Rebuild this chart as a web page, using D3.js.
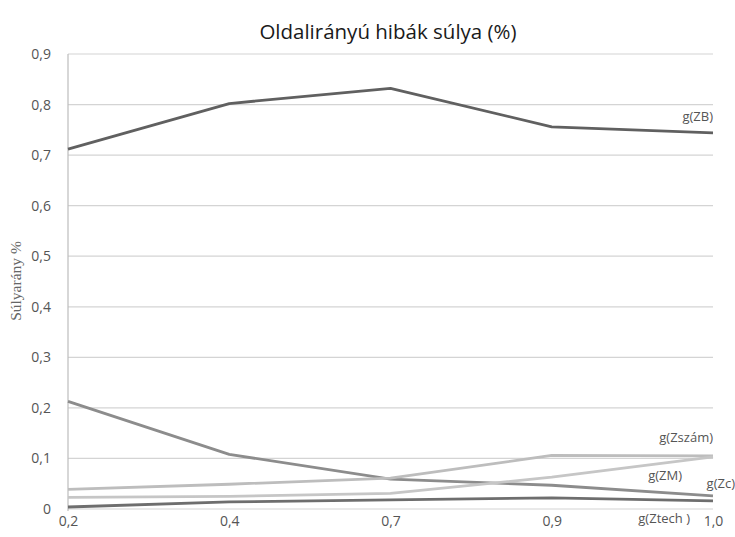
<!DOCTYPE html>
<html>
<head>
<meta charset="utf-8">
<script src="https://cdn.jsdelivr.net/npm/d3@7"></script>
<style>
  body { margin: 0; background: #fff; }
  #chart { width: 735px; height: 537px; }
  .title { font-family: 'Open Sans', sans-serif; font-size: 20.5px; fill: #1a1a1a; }
  .axis text { font-family: 'Open Sans', sans-serif; font-size: 14px; fill: #555; }
  .axis .domain, .axis .tick line { display: none; }
  .grid line { stroke: #d4d4d4; stroke-width: 1.2px; }
  .y-label { font-family: 'Liberation Serif', serif; font-size: 15.5px; fill: #666; }
  .series { fill: none; stroke-width: 2.8px; stroke-linejoin: round; }
  .s-label { font-family: 'Open Sans', sans-serif; font-size: 13px; fill: #555; }
</style>
</head>
<body>
<div id="chart"></div>
<script>
/* ── data ───────────────────────────────────────────── */
const categories = ["0,2", "0,4", "0,7", "0,9", "1,0"];
const yTicks = [0, 0.1, 0.2, 0.3, 0.4, 0.5, 0.6, 0.7, 0.8, 0.9];

const zB     = [0.712, 0.802, 0.832, 0.756, 0.744];
const zC     = [0.213, 0.108, 0.059, 0.047, 0.026];
const zSzam  = [0.039, 0.049, 0.061, 0.106, 0.105];
const zM     = [0.023, 0.025, 0.031, 0.063, 0.103];
const zTech  = [0.004, 0.014, 0.018, 0.022, 0.016];

const seriesNames = ["g(ZB)", "g(Zc)", "g(Zszám)", "g(ZM)", "g(Ztech )"];
const seriesValues = [zB, zC, zSzam, zM, zTech];
const seriesColors = ["#606060", "#8c8c8c", "#bdbdbd", "#c6c6c6", "#6e6e6e"];

/* ── layout ─────────────────────────────────────────── */
const W = 735, H = 537;
const margin = { top: 54, right: 22, bottom: 28, left: 68 };
const width = W - margin.left - margin.right;
const height = H - margin.top - margin.bottom;

const svg = d3.select("#chart").append("svg")
  .attr("width", W).attr("height", H);

const g = svg.append("g")
  .attr("transform", `translate(${margin.left},${margin.top})`);

const x = d3.scalePoint().domain(categories).range([0, width]).padding(0);
const y = d3.scaleLinear().domain([0, 0.9]).range([height, 0]);

/* gridlines */
g.append("g").attr("class", "grid")
  .selectAll("line").data(yTicks).join("line")
    .attr("x1", 0).attr("x2", width)
    .attr("y1", d => y(d)).attr("y2", d => y(d));

/* left axis line */
g.append("line")
  .attr("x1", 0).attr("x2", 0)
  .attr("y1", 0).attr("y2", height + 2)
  .attr("stroke", "#bdbdbd").attr("stroke-width", 1.2);

/* axes */
g.append("g").attr("class", "axis")
  .call(d3.axisLeft(y).tickValues(yTicks).tickSize(0).tickPadding(17)
    .tickFormat(d => d === 0 ? "0" : d3.format(".1f")(d).replace(".", ",")));

g.append("g").attr("class", "axis")
  .attr("transform", `translate(0,${height})`)
  .call(d3.axisBottom(x).tickSize(0).tickPadding(7));

/* lines */
const line = d3.line()
  .x((d, i) => x(categories[i]))
  .y(d => y(d));

g.selectAll(".series")
  .data(seriesValues)
  .join("path")
    .attr("class", "series")
    .attr("stroke", (d, i) => seriesColors[i])
    .attr("d", line);

/* series labels */
const last = categories[categories.length - 1];
const labelPos = [
  { dx: 0,   dy: -12, anchor: "end" },   // ZB
  { dx: 22,  dy: -8,  anchor: "end" },   // Zc
  { dx: 0,   dy: -14, anchor: "end" },   // Zszám
  { dx: -31, dy: 23,  anchor: "end" },   // ZM
  { dx: -23, dy: 22,  anchor: "end" }    // Ztech
];
g.selectAll(".s-label")
  .data(seriesNames)
  .join("text")
    .attr("class", "s-label")
    .attr("text-anchor", (d, i) => labelPos[i].anchor)
    .attr("x", (d, i) => x(last) + labelPos[i].dx)
    .attr("y", (d, i) => y(seriesValues[i][4]) + labelPos[i].dy)
    .text(d => d);

/* title */
svg.append("text")
  .attr("class", "title")
  .attr("x", 388).attr("y", 39)
  .attr("text-anchor", "middle")
  .text("Oldalirányú hibák súlya (%)");

/* y label */
svg.append("text")
  .attr("class", "y-label")
  .attr("transform", `translate(21,281) rotate(-90)`)
  .attr("text-anchor", "middle")
  .text("Súlyarány %");
</script>
</body>
</html>
